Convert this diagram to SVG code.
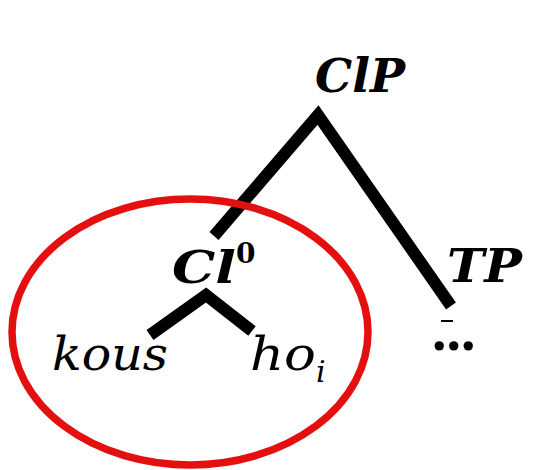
<svg xmlns="http://www.w3.org/2000/svg" width="558" height="470" viewBox="0 0 558 470">
<style>
.lbl{font-family:"DejaVu Serif","Liberation Serif",serif;font-style:italic;fill:#000}
.b{font-weight:bold}
.edge{stroke:#000;stroke-width:12;fill:none;stroke-linecap:butt}
</style>
<rect width="558" height="470" fill="#fff"/>
<g id="connectors">
<path class="edge" d="M214,236 L318,115 L451,306"/>
<path class="edge" d="M150,335 L206,295 L252,331"/>
<path d="M441,321 H453" stroke="#000" stroke-width="2"/>
</g>
<g id="ClP"><text class="lbl b" x="315" y="92" font-size="46" textLength="90" lengthAdjust="spacingAndGlyphs">ClP</text></g>
<g id="Cl0"><text class="lbl b" x="172" y="283" font-size="45"><tspan textLength="64" lengthAdjust="spacingAndGlyphs">Cl</tspan><tspan font-style="normal" font-size="28" dy="-20">0</tspan></text></g>
<g id="TP"><text class="lbl b" x="447" y="282" font-size="46" textLength="75" lengthAdjust="spacingAndGlyphs">TP</text></g>
<g id="kous"><text class="lbl" x="52" y="370" font-size="47" textLength="116" lengthAdjust="spacingAndGlyphs">kous</text></g>
<g id="hoi"><text class="lbl" x="250" y="370" font-size="47"><tspan textLength="66" lengthAdjust="spacingAndGlyphs">ho</tspan><tspan font-size="30" dy="12">i</tspan></text></g>
<g id="ellipsis"><text x="432" y="350" font-family="Liberation Serif,serif" font-weight="bold" font-size="58">...</text></g>
<ellipse id="circle" cx="190" cy="332" rx="178" ry="133" fill="none" stroke="#e41010" stroke-width="7.5"/>
</svg>
